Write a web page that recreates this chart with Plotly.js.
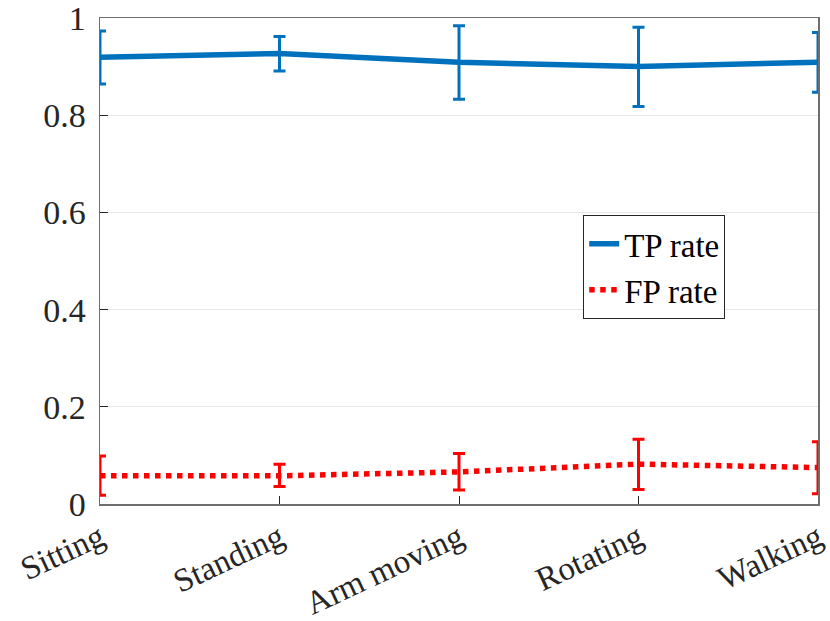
<!DOCTYPE html>
<html><head><meta charset="utf-8">
<script src="https://cdn.plot.ly/plotly-3.0.1.min.js"></script>
<style>body{margin:0;background:#fff}#c{width:830px;height:621px}</style>
</head><body><div id="c"></div>
<script>
const categories = ["Sitting", "Standing", "Arm moving", "Rotating", "Walking"];
const tpRate = [0.919, 0.927, 0.909, 0.900, 0.909];
const tpErrPlus = [0.054, 0.035, 0.075, 0.081, 0.061];
const tpErrMinus = [0.055, 0.036, 0.076, 0.082, 0.062];
const fpRate = [0.058, 0.058, 0.066, 0.082, 0.075];
const fpErrPlus = [0.041, 0.024, 0.038, 0.051, 0.053];
const fpErrMinus = [0.040, 0.022, 0.037, 0.052, 0.054];
const yTicks = [0, 0.2, 0.4, 0.6, 0.8, 1];
const yTickText = ["0", "0.2", "0.4", "0.6", "0.8", "1"];

const font = "'Liberation Serif', 'Times New Roman', serif";
const traces = [
  {x: categories, y: tpRate, name: "TP rate", type: "scatter", mode: "lines",
   line: {color: "#0072BD", width: 5.5},
   error_y: {type: "data", symmetric: false, array: tpErrPlus, arrayminus: tpErrMinus,
             color: "#0072BD", thickness: 3, width: 6}},
  {x: categories, y: fpRate, name: "FP rate", type: "scatter", mode: "lines",
   line: {color: "#FF0000", width: 5.5, dash: "dot"},
   error_y: {type: "data", symmetric: false, array: fpErrPlus, arrayminus: fpErrMinus,
             color: "#FF0000", thickness: 3, width: 6}}
];
const layout = {
  width: 830, height: 621,
  margin: {l: 100, r: 12, t: 18, b: 117},
  paper_bgcolor: "#fff", plot_bgcolor: "#fff",
  font: {family: font, size: 34, color: "#262626"},
  showlegend: true,
  legend: {x: 0.673, y: 0.595, xanchor: "left", yanchor: "top",
           bordercolor: "#262626", borderwidth: 1, bgcolor: "#fff",
           itemwidth: 30,
           font: {family: font, size: 33, color: "#000"}},
  xaxis: {type: "category", range: [0, 4], tickangle: -25, automargin: false,
          ticklabeloverflow: "allow",
          showline: true, mirror: true, linecolor: "#6e6e6e", linewidth: 1.5,
          ticks: "inside", ticklen: 8, tickcolor: "#262626", showgrid: false,
          tickfont: {family: font, size: 33, color: "#262626"}},
  yaxis: {range: [0, 1], tickvals: yTicks, ticktext: yTickText, automargin: false,
          ticklabeloverflow: "allow",
          showline: true, mirror: true, linecolor: "#6e6e6e", linewidth: 1.5,
          ticks: "inside", ticklen: 8, tickcolor: "#262626", ticklabelstandoff: 6,
          showgrid: true, gridcolor: "#e6e6e6", zeroline: false,
          tickfont: {family: font, size: 34, color: "#262626"}}
};
Plotly.newPlot("c", traces, layout, {displayModeBar: false, staticPlot: true});
</script></body></html>
